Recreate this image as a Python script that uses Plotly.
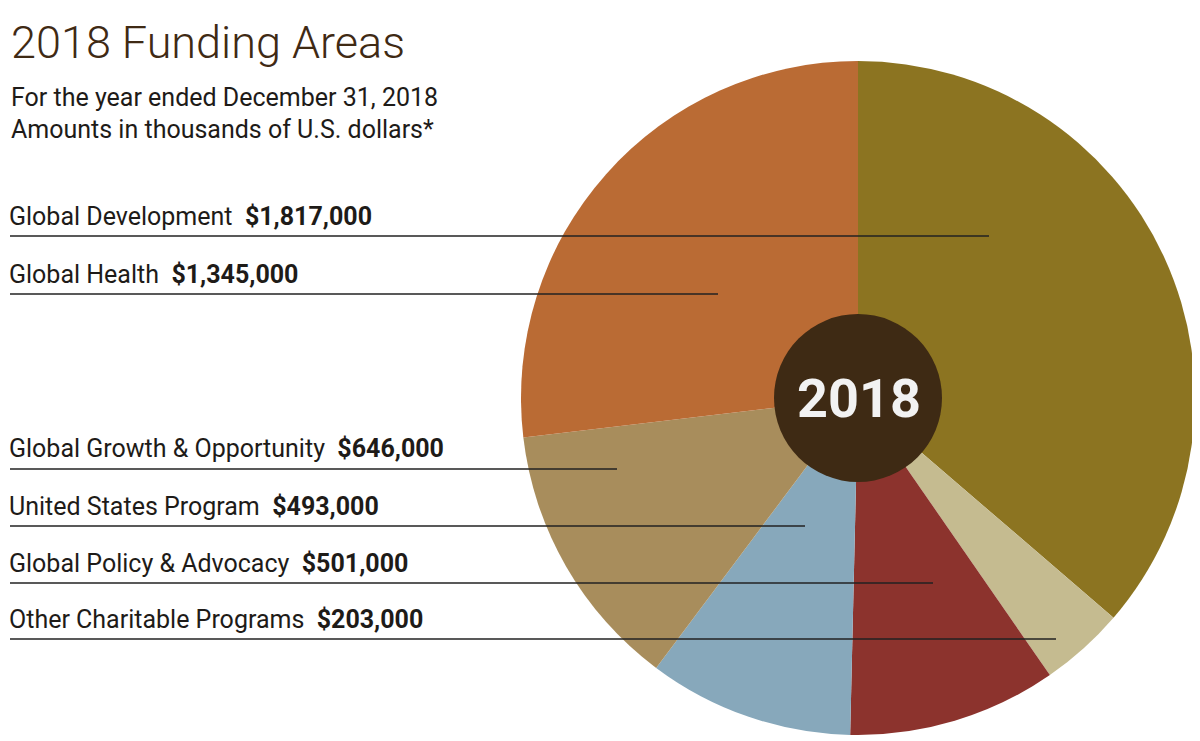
import plotly.graph_objects as go

# ---- data ----
slice_names = ["Global Development", "Other Charitable Programs", "Global Policy & Advocacy",
               "United States Program", "Global Growth & Opportunity", "Global Health"]
slice_values = [1817000, 203000, 501000, 493000, 646000, 1345000]
slice_colors = ["#8C7421", "#C5BB90", "#8C332D", "#87A8BB", "#A88D5C", "#BA6B34"]

label_order = ["Global Development", "Global Health", "Global Growth & Opportunity",
               "United States Program", "Global Policy & Advocacy", "Other Charitable Programs"]
title_text = "2018 Funding Areas"
subtitle_lines = ["For the year ended December 31, 2018", "Amounts in thousands of U.S. dollars*"]
center_text = "2018"

# ---- layout helpers (page has an 8px body margin) ----
OFF = 8
W, H = 1200 - OFF, 741 - OFF
def px(x):
    return (x - OFF) / W
def py(y):
    return 1 - (y - OFF) / H

cx, cy, r = 858, 398, 337
hole_r = 84
FONT = "Roboto"
DARK = "#3F2A14"
TEXT = "#1E1B18"

fig = go.Figure()
fig.add_trace(go.Pie(
    labels=slice_names, values=slice_values, sort=False, direction="clockwise",
    rotation=0, marker=dict(colors=slice_colors, line=dict(width=0)),
    textinfo="none", hoverinfo="label+value", showlegend=False,
    domain=dict(x=[px(cx - r), px(cx + r)], y=[py(cy + r), py(cy - r)]),
))

shapes = [dict(type="circle", xref="paper", yref="paper",
               x0=px(cx - hole_r), x1=px(cx + hole_r), y0=py(cy + hole_r), y1=py(cy - hole_r),
               fillcolor="#3E2A14", line=dict(width=0), layer="above")]

annotations = [
    dict(text=title_text, x=px(9), y=py(43), xref="paper", yref="paper",
         xanchor="left", yanchor="middle", showarrow=False,
         font=dict(family=FONT, size=45, color=DARK, weight=300)),
    dict(text=center_text, x=px(cx + 1), y=py(cy), xref="paper", yref="paper",
         xanchor="center", yanchor="middle", showarrow=False,
         font=dict(family=FONT, size=54, color="#F2F2F2", weight="bold")),
]
for i, line in enumerate(subtitle_lines):
    annotations.append(dict(text=line, x=px(9), y=py(98 + 31 * i), xref="paper", yref="paper",
                            xanchor="left", yanchor="middle", showarrow=False,
                            font=dict(family=FONT, size=25, color=TEXT)))

line_y = [236, 294, 469, 526, 583, 639]
line_end = [989, 718, 617, 805, 933, 1056]
value_of = dict(zip(slice_names, slice_values))
for name, ly, le in zip(label_order, line_y, line_end):
    v = value_of[name]
    annotations.append(dict(
        text=f"{name}\u00a0\u00a0<b>${v:,}</b>", x=px(7), y=py(ly - 20),
        xref="paper", yref="paper", xanchor="left", yanchor="middle", showarrow=False,
        font=dict(family=FONT, size=25, color=TEXT)))
    shapes.append(dict(type="line", xref="paper", yref="paper",
                       x0=px(10), x1=px(le), y0=py(ly), y1=py(ly),
                       line=dict(color="#222222", width=1.5), layer="above"))

fig.update_layout(width=W, height=H, margin=dict(l=0, r=0, t=0, b=0),
                  paper_bgcolor="white", plot_bgcolor="white",
                  shapes=shapes, annotations=annotations)
fig.write_html("out.html")
